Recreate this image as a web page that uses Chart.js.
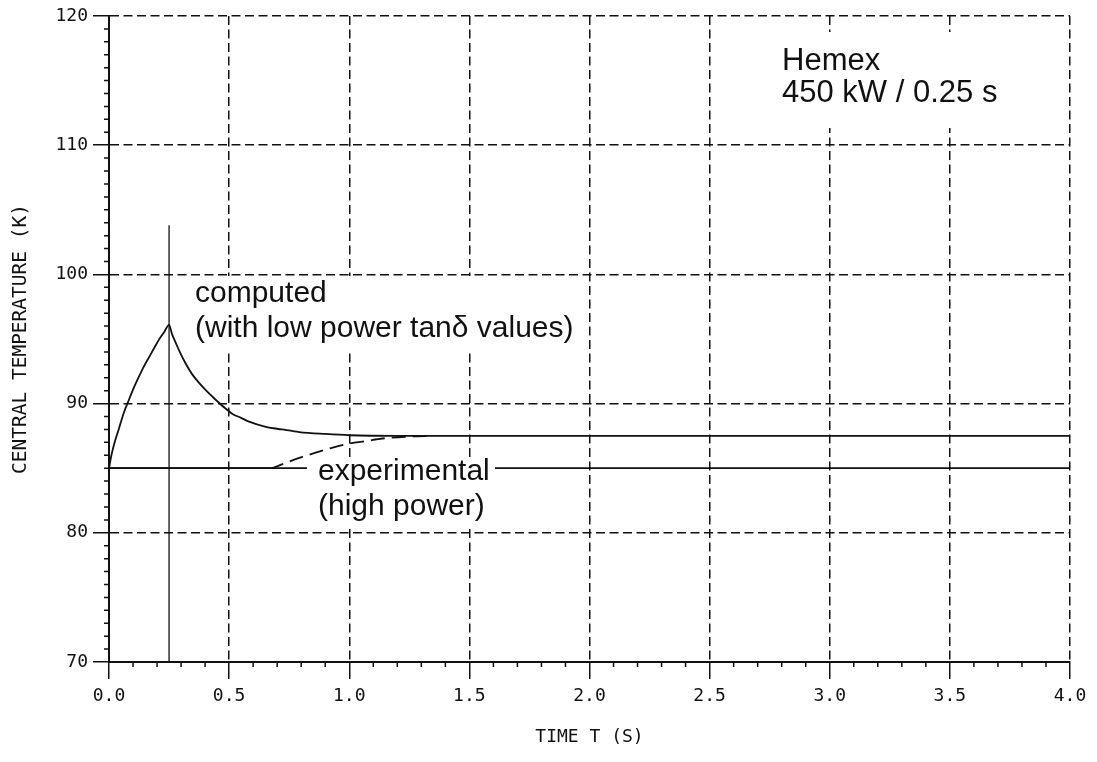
<!DOCTYPE html>
<html>
<head>
<meta charset="utf-8">
<script src="https://cdn.jsdelivr.net/npm/chart.js@4.4.1/dist/chart.umd.min.js"></script>
<style>
  html, body { margin: 0; padding: 0; background: #fff; }
  #wrap { width: 1097px; height: 762px; }
</style>
</head>
<body>
<div id="wrap"><canvas id="chart" width="1097" height="762"></canvas></div>
<script>
// Valores (tiempo en s, temperatura en K)
const xTicks = [0, 0.5, 1, 1.5, 2, 2.5, 3, 3.5, 4];
const yTicks = [70, 80, 90, 100, 110, 120];

const computedT = [0, 0.01, 0.025, 0.042, 0.06, 0.083, 0.104, 0.125, 0.146, 0.167, 0.188, 0.208, 0.23, 0.25,
                   0.262, 0.278, 0.297, 0.319, 0.345, 0.375, 0.41, 0.444, 0.48, 0.514, 0.55, 0.583, 0.653,
                   0.72, 0.792, 0.9, 1.0, 1.2, 1.5, 4.0];
const computedK = [85, 86.0, 87.1, 88.1, 89.2, 90.3, 91.25, 92.1, 92.9, 93.6, 94.3, 94.95, 95.55, 96.1,
                   95.4, 94.7, 93.9, 93.1, 92.3, 91.6, 90.9, 90.3, 89.7, 89.2, 88.9, 88.6, 88.2,
                   88.0, 87.8, 87.65, 87.55, 87.5, 87.5, 87.5];

const experimentalT = [0, 0.67, 0.72, 0.792, 0.86, 0.931, 1.0, 1.07, 1.139, 1.25, 1.35];
const experimentalK = [85, 85, 85.3, 85.8, 86.2, 86.6, 86.9, 87.1, 87.3, 87.45, 87.5];
const experimentalDashFrom = 0.67;

const initialT = [0, 4];
const initialK = [85, 85];

const pulseT = [0.25, 0.25];
const pulseK = [70, 103.8];

function toPoints(xs, ys) {
    return xs.map((x, i) => ({ x: x, y: ys[i] }));
}

const ink = '#111';

// Marcas menores y textos
const extrasPlugin = {
    id: 'extras',
    afterDatasetsDraw(chart) {
        const ctx = chart.ctx;
        const xs = chart.scales.x;
        const ys = chart.scales.y;
        const area = chart.chartArea;

        ctx.save();
        ctx.strokeStyle = ink;
        ctx.lineWidth = 1.5;
        ctx.beginPath();
        // marcas menores en x cada 0.1 s
        for (let i = 0; i <= 40; i++) {
            if (i % 5 === 0) continue;
            const px = xs.getPixelForValue(i / 10);
            ctx.moveTo(px, area.bottom);
            ctx.lineTo(px, area.bottom + 5);
        }
        // marcas menores en y cada 1 K
        for (let k = 70; k <= 120; k++) {
            if (k % 10 === 0) continue;
            const py = ys.getPixelForValue(k);
            ctx.moveTo(area.left - 5, py);
            ctx.lineTo(area.left, py);
        }
        ctx.stroke();

        // cajas blancas detrás de los textos
        ctx.fillStyle = '#fff';
        ctx.fillRect(775, 32, 255, 96);
        ctx.fillRect(190, 276, 390, 74);
        ctx.fillRect(307, 458, 188, 70);

        ctx.fillStyle = ink;
        ctx.textBaseline = 'alphabetic';
        ctx.textAlign = 'left';
        ctx.font = '31px "Liberation Sans", Arial, sans-serif';
        ctx.fillText('Hemex', 782, 70);
        ctx.fillText('450 kW / 0.25 s', 782, 102);

        ctx.font = '30px "Liberation Sans", Arial, sans-serif';
        ctx.fillText('computed', 195, 302);
        ctx.fillText('(with low power tan\u03B4 values)', 195, 337);
        ctx.fillText('experimental', 318, 480);
        ctx.fillText('(high power)', 318, 515);
        ctx.restore();
    }
};

const lineStyle = {
    borderColor: ink,
    borderWidth: 1.8,
    pointRadius: 0,
    fill: false,
    tension: 0
};

new Chart(document.getElementById('chart'), {
    type: 'scatter',
    data: {
        datasets: [
            Object.assign({ label: 'computed', data: toPoints(computedT, computedK), showLine: true }, lineStyle,
                { cubicInterpolationMode: 'monotone', tension: 0.4 }),
            Object.assign({ label: 'experimental', data: toPoints(experimentalT, experimentalK), showLine: true,
                segment: { borderDash: c => c.p0.parsed.x >= experimentalDashFrom ? [14, 7] : undefined } }, lineStyle,
                { cubicInterpolationMode: 'monotone', tension: 0.4 }),
            Object.assign({ label: 'initial', data: toPoints(initialT, initialK), showLine: true }, lineStyle),
            Object.assign({ label: 'pulse', data: toPoints(pulseT, pulseK), showLine: true }, lineStyle, { borderWidth: 1.3 })
        ]
    },
    options: {
        responsive: false,
        animation: false,
        layout: { padding: { left: 0, top: 16, right: 27, bottom: 0 } },
        plugins: {
            legend: { display: false },
            tooltip: { enabled: false }
        },
        scales: {
            x: {
                type: 'linear',
                min: 0,
                max: 4,
                afterBuildTicks: s => { s.ticks = xTicks.map(v => ({ value: v })); },
                afterFit: s => { s.height = 100; },
                ticks: {
                    callback: v => Number(v).toFixed(1),
                    font: { family: '"DejaVu Sans Mono", monospace', size: 18 },
                    color: ink,
                    padding: 7,
                    maxRotation: 0
                },
                grid: {
                    color: ink,
                    lineWidth: 1.5,
                    tickLength: 17,
                    tickColor: ink,
                    tickWidth: 1.5,
                    tickBorderDash: []
                },
                border: { display: true, color: ink, width: 2, dash: [9, 4.5] },
                title: {
                    display: true,
                    text: 'TIME T (S)',
                    font: { family: '"DejaVu Sans Mono", monospace', size: 18 },
                    color: ink,
                    padding: { top: 0, bottom: 14 }
                }
            },
            y: {
                type: 'linear',
                min: 70,
                max: 120,
                afterBuildTicks: s => { s.ticks = yTicks.map(v => ({ value: v })); },
                afterFit: s => { s.width = 109; },
                ticks: {
                    font: { family: '"DejaVu Sans Mono", monospace', size: 18 },
                    color: ink,
                    padding: 5
                },
                grid: {
                    color: ink,
                    lineWidth: 1.5,
                    tickLength: 16,
                    tickColor: ink,
                    tickWidth: 1.5,
                    tickBorderDash: []
                },
                border: { display: true, color: ink, width: 2, dash: [9, 4.5] },
                title: {
                    display: true,
                    text: 'CENTRAL TEMPERATURE (K)',
                    font: { family: '"DejaVu Sans Mono", monospace', size: 19.5 },
                    color: ink,
                    padding: { top: 9, bottom: 0 }
                }
            }
        }
    },
    plugins: [extrasPlugin]
});
</script>
</body>
</html>
